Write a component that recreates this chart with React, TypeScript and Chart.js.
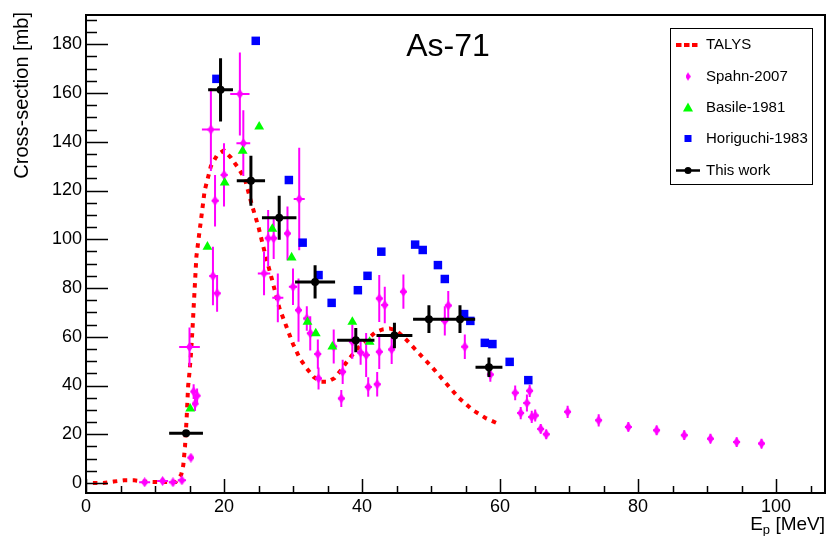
import { useEffect, useRef } from 'react';
import { Chart, registerables } from 'chart.js';

Chart.register(...registerables);

// ---------------- data ----------------
const seriesLabels = ['TALYS', 'Spahn-2007', 'Basile-1981', 'Horiguchi-1983', 'This work'];
const chartTitle = 'As-71';

const talysE = [1, 2.5, 4, 5.5, 7, 8.5, 10, 11.5, 13, 13.8, 14.1, 14.35, 14.6, 14.8, 15.0, 15.2, 15.45, 16.0, 16.6, 17.2, 18.1, 19, 20, 21, 22, 23, 24, 25, 26, 27, 28, 29, 30, 31, 32, 33, 34, 35, 36, 37, 38, 39, 40, 41, 42, 43, 44, 45, 46, 47, 48, 50, 52, 54, 56, 58, 60];
const talysXS = [0, 0, 0.6, 1.1, 1.1, 0.5, 0.4, 0.4, 0.4, 3.4, 7.3, 15, 27.4, 39.7, 45.5, 52.4, 64, 93, 106.5, 120, 130, 134.5, 136.5, 133.5, 129.5, 125, 114.5, 105, 93.5, 83, 72, 64.5, 57, 51, 47, 43.5, 41.5, 41.5, 43, 46.5, 50.5, 54, 57, 59.5, 62, 63, 63.4, 62.5, 60, 57, 54, 48, 41.5, 35, 30, 26.5, 24];

const spahnE = [8.5, 11.1, 12.6, 13.9, 15.0, 15.2, 15.6, 16.1, 15.8, 18.1, 18.7, 20.0, 22.3, 22.8, 18.4, 19.0, 25.8, 26.4, 27.2, 29.2, 30.9, 27.8, 30.0, 30.8, 32.0, 32.5, 33.6, 33.7, 35.9, 37.2, 37.0, 38.6, 39.8, 40.6, 40.9, 42.2, 42.5, 43.3, 42.5, 44.3, 46.0, 52.0, 52.5, 54.9, 58.6, 62.2, 63.0, 63.9, 64.3, 64.6, 65.1, 65.9, 66.7, 69.8, 74.3, 78.6, 82.7, 86.7, 90.5, 94.3, 97.9];
const spahnXS = [0.3, 0.8, 0.3, 1.1, 55.8, 10.4, 37.5, 35.8, 32.5, 145, 115.8, 126.4, 159.6, 139.4, 84.9, 77.8, 86, 100.4, 100.4, 102.4, 116.5, 76, 80.5, 70.9, 67.5, 61.4, 52.9, 42.9, 56, 45.6, 34.7, 58, 53.5, 52.5, 39.4, 40.5, 75.7, 73, 53.8, 54.8, 78.5, 66.5, 72.8, 55.9, 44.5, 37, 28.7, 32.8, 37.8, 27.1, 27.7, 22.2, 20, 29.2, 25.7, 23, 21.6, 19.6, 18.2, 16.8, 16.2];
const spahnEErr = [0.8, 0.8, 0.6, 0.6, 1.5, 0.4, 0.4, 0.4, 0.4, 1.3, 0.5, 0.5, 1.4, 1.0, 0.5, 0.5, 0.9, 0.5, 0.5, 0.5, 0.8, 0.8, 0.6, 0.5, 0.5, 0.5, 0.5, 0.5, 0.5, 0.5, 0.5, 0.5, 0.5, 0.5, 0.5, 0.5, 0.5, 0.5, 0.5, 0.5, 0.5, 0.5, 0.5, 0.5, 0.5, 0.5, 0.5, 0.5, 0.5, 0.5, 0.5, 0.5, 0.5, 0.5, 0.5, 0.5, 0.5, 0.5, 0.5, 0.5, 0.5];
const spahnXSErr = [0.3, 0.5, 0.3, 0.5, 8, 1, 3, 3, 3, 17, 10.6, 13, 17, 13.5, 12, 7.5, 9, 11.6, 8.5, 11, 21, 10, 7.5, 13, 5, 7, 6, 4.5, 7, 5, 3.5, 7, 5, 9, 4, 5, 9.6, 7.5, 7, 6, 7, 6, 6, 5, 3, 3, 2.5, 3.5, 2.5, 2.5, 2.5, 2, 2, 2.5, 2.5, 2, 2, 2, 2, 2, 2];

const basileE = [15.1, 17.6, 20.1, 22.7, 25.1, 27.0, 29.8, 32.1, 33.3, 35.7, 38.6, 41.1];
const basileXS = [30.5, 96.9, 123.2, 136.2, 146.2, 104.2, 92.5, 66.1, 61.4, 55.9, 66.1, 57.9];

const horiE = [18.9, 24.6, 29.4, 31.4, 33.7, 35.6, 39.4, 40.8, 42.8, 47.7, 48.8, 51.0, 52.0, 54.8, 55.7, 57.8, 58.9, 61.4, 64.1];
const horiXS = [165.8, 181.4, 124.3, 98.6, 85.3, 73.9, 79.1, 85.0, 94.9, 97.8, 95.6, 89.4, 83.7, 69.3, 66.5, 57.5, 57.0, 49.7, 42.2];

const workE = [14.5, 19.5, 23.9, 28.0, 33.2, 39.1, 44.7, 49.7, 54.2, 58.4];
const workXS = [20.4, 161.3, 124, 108.8, 82.5, 58.6, 60.5, 67.2, 67.2, 47.5];
const workEErr = [2.45, 1.8, 2.05, 2.5, 2.9, 2.7, 2.6, 2.3, 2.2, 1.95];
const workXSErr = [1.2, 13, 10.3, 9, 6.8, 5, 5.2, 5.7, 5.7, 4];

const xTickValues = [0, 20, 40, 60, 80, 100];
const yTickValues = [0, 20, 40, 60, 80, 100, 120, 140, 160, 180];
const xRange = [0, 107.1];
const yRange = [-4.1, 192];
const minorStep = 5;

const FONT = '"Liberation Sans", Arial, Helvetica, sans-serif';
const MAGENTA = '#ff00ff';
const GREEN = '#00ff00';
const BLUE = '#0000ff';
const RED = '#ff0000';
const PLOT_RIGHT_GAP = 2;

const pts = (xs: number[], ys: number[]) => xs.map((x, i) => ({ x, y: ys[i] }));

function makeDiamond(): HTMLCanvasElement {
  const c = document.createElement('canvas');
  c.width = 7;
  c.height = 10;
  const g = c.getContext('2d')!;
  g.fillStyle = MAGENTA;
  g.beginPath();
  g.moveTo(3.5, 0);
  g.lineTo(7, 5);
  g.lineTo(3.5, 10);
  g.lineTo(0, 5);
  g.closePath();
  g.fill();
  return c;
}

// stretch the plot area to the right edge like the ROOT frame
const areaPlugin = {
  id: 'areaFix',
  afterLayout(chart: any) {
    const a = chart.chartArea;
    const target = chart.width - PLOT_RIGHT_GAP;
    if (a.right !== target) {
      a.right = target;
      a.width = a.right - a.left;
      const sx = chart.scales.x;
      sx.right = target;
      sx.width = sx.right - sx.left;
      sx.configure();
    }
  },
};

const errorBarPlugin = {
  id: 'errorBars',
  beforeDatasetDraw(chart: any, args: any) {
    const ds = chart.data.datasets[args.index];
    if (!ds.errX || !ds.errY) return;
    const { ctx, chartArea: a, scales } = chart;
    const sx = scales.x;
    const sy = scales.y;
    ctx.save();
    ctx.beginPath();
    ctx.rect(a.left, a.top, a.right - a.left, a.bottom - a.top);
    ctx.clip();
    ctx.strokeStyle = ds.errColor;
    ctx.lineWidth = ds.errWidth;
    ctx.lineCap = 'butt';
    ds.data.forEach((p: any, i: number) => {
      const ex = ds.errX[i];
      const ey = ds.errY[i];
      const px = sx.getPixelForValue(p.x);
      const py = sy.getPixelForValue(p.y);
      ctx.beginPath();
      ctx.moveTo(sx.getPixelForValue(p.x - ex), py);
      ctx.lineTo(sx.getPixelForValue(p.x + ex), py);
      ctx.moveTo(px, sy.getPixelForValue(p.y - ey));
      ctx.lineTo(px, sy.getPixelForValue(p.y + ey));
      ctx.stroke();
    });
    ctx.restore();
  },
};

const framePlugin = {
  id: 'rootFrame',
  afterDatasetsDraw(chart: any) {
    const { ctx, chartArea: a, scales } = chart;
    const sx = scales.x;
    const sy = scales.y;
    ctx.save();
    ctx.strokeStyle = '#000';
    ctx.lineWidth = 1.5;
    ctx.beginPath();
    for (let v = 0; v <= xRange[1]; v += minorStep) {
      const px = Math.round(sx.getPixelForValue(v)) + 0.5;
      const len = v % 20 === 0 ? 14 : 7;
      ctx.moveTo(px, a.bottom);
      ctx.lineTo(px, a.bottom - len);
    }
    for (let v = 0; v <= yRange[1]; v += minorStep) {
      const py = Math.round(sy.getPixelForValue(v)) + 0.5;
      const len = v % 20 === 0 ? 22 : 11;
      ctx.moveTo(a.left, py);
      ctx.lineTo(a.left + len, py);
    }
    ctx.stroke();
    ctx.lineWidth = 2;
    ctx.strokeRect(a.left, a.top, a.right - a.left, a.bottom - a.top);
    ctx.restore();
  },
  afterDraw(chart: any) {
    const { ctx, chartArea: a } = chart;
    const ds = chart.data.datasets;
    ctx.save();
    // title
    ctx.fillStyle = '#000';
    ctx.font = `32px ${FONT}`;
    ctx.textAlign = 'center';
    ctx.textBaseline = 'alphabetic';
    ctx.fillText(chartTitle, 448, 56);

    // y axis title
    ctx.save();
    ctx.translate(28, a.top - 3);
    ctx.rotate(-Math.PI / 2);
    ctx.font = `20px ${FONT}`;
    ctx.textAlign = 'right';
    ctx.fillText('Cross-section [mb]', 0, 0);
    ctx.restore();

    // x axis title  E_p [MeV]
    ctx.textAlign = 'left';
    ctx.font = `19px ${FONT}`;
    const restW = ctx.measureText(' [MeV]').width;
    const eW = ctx.measureText('E').width;
    ctx.font = `13px ${FONT}`;
    const pW = ctx.measureText('p').width;
    let tx = a.right - restW - pW - eW;
    const base = 530;
    ctx.font = `19px ${FONT}`;
    ctx.fillText('E', tx, base);
    tx += eW;
    ctx.font = `13px ${FONT}`;
    ctx.fillText('p', tx, base + 4);
    tx += pW;
    ctx.font = `19px ${FONT}`;
    ctx.fillText(' [MeV]', tx, base);

    // legend
    const lx = 670, ly = 28, lw = 142, lh = 156;
    ctx.fillStyle = '#fff';
    ctx.fillRect(lx, ly, lw, lh);
    ctx.strokeStyle = '#000';
    ctx.lineWidth = 1;
    ctx.strokeRect(lx + 0.5, ly + 0.5, lw, lh);
    const rows = [45, 76.5, 107.5, 138.5, 170.5];
    const symX = 688;
    ctx.font = `15px ${FONT}`;
    ctx.textBaseline = 'middle';
    ctx.textAlign = 'left';
    // TALYS
    ctx.save();
    ctx.strokeStyle = RED;
    ctx.lineWidth = 4;
    ctx.setLineDash([5.5, 2.5]);
    ctx.beginPath();
    ctx.moveTo(676, rows[0]);
    ctx.lineTo(700, rows[0]);
    ctx.stroke();
    ctx.restore();
    // Spahn
    const dia = ds[1].pointStyle as HTMLCanvasElement;
    ctx.drawImage(dia, symX - 2.5, rows[1] - 4.5, 5, 9);
    // Basile
    ctx.fillStyle = GREEN;
    ctx.beginPath();
    ctx.moveTo(symX, rows[2] - 5);
    ctx.lineTo(symX + 5, rows[2] + 4);
    ctx.lineTo(symX - 5, rows[2] + 4);
    ctx.closePath();
    ctx.fill();
    // Horiguchi
    ctx.fillStyle = BLUE;
    ctx.fillRect(symX - 3.5, rows[3] - 3.5, 7, 7);
    // This work
    ctx.strokeStyle = '#000';
    ctx.lineWidth = 2.5;
    ctx.beginPath();
    ctx.moveTo(676, rows[4]);
    ctx.lineTo(700, rows[4]);
    ctx.stroke();
    ctx.fillStyle = '#000';
    ctx.beginPath();
    ctx.arc(symX, rows[4], 3.5, 0, Math.PI * 2);
    ctx.fill();
    // labels
    ctx.fillStyle = '#000';
    ds.forEach((d: any, i: number) => ctx.fillText(d.label, 706, rows[i]));
    ctx.restore();
  },
};

export default function App() {
  const ref = useRef<HTMLCanvasElement>(null);

  useEffect(() => {
    const canvas = ref.current;
    if (!canvas) return;
    const diamond = makeDiamond();

    const chart = new Chart(canvas, {
      type: 'scatter',
      data: {
        datasets: [
          {
            label: seriesLabels[0],
            data: pts(talysE, talysXS),
            showLine: true,
            borderColor: RED,
            borderWidth: 4,
            borderDash: [4.5, 5.5],
            borderCapStyle: 'butt',
            pointRadius: 0,
            fill: false,
            tension: 0,
            order: 5,
          } as any,
          {
            label: seriesLabels[1],
            data: pts(spahnE, spahnXS),
            pointStyle: diamond,
            pointRadius: 4,
            backgroundColor: MAGENTA,
            borderWidth: 0,
            errX: spahnEErr,
            errY: spahnXSErr,
            errColor: MAGENTA,
            errWidth: 2,
            order: 4,
          } as any,
          {
            label: seriesLabels[2],
            data: pts(basileE, basileXS),
            pointStyle: 'triangle',
            pointRadius: 5.7,
            backgroundColor: GREEN,
            borderWidth: 0,
            order: 3,
          } as any,
          {
            label: seriesLabels[3],
            data: pts(horiE, horiXS),
            pointStyle: 'rect',
            pointRadius: 6,
            backgroundColor: BLUE,
            borderWidth: 0,
            order: 2,
          } as any,
          {
            label: seriesLabels[4],
            data: pts(workE, workXS),
            pointStyle: 'circle',
            pointRadius: 4,
            backgroundColor: '#000',
            borderWidth: 0,
            errX: workEErr,
            errY: workXSErr,
            errColor: '#000',
            errWidth: 3,
            order: 1,
          } as any,
        ],
      },
      options: {
        responsive: false,
        animation: false,
        events: [],
        layout: { padding: { left: 0, right: PLOT_RIGHT_GAP, top: 15, bottom: 0 } },
        plugins: {
          legend: { display: false },
          tooltip: { enabled: false },
          title: { display: false },
        },
        scales: {
          x: {
            type: 'linear',
            position: 'bottom',
            min: xRange[0],
            max: xRange[1],
            afterBuildTicks: (s: any) => {
              s.ticks = xTickValues.map((v) => ({ value: v }));
            },
            afterFit: (s: any) => {
              s.height = 43;
              s.paddingLeft = 0;
              s.paddingRight = 0;
            },
            ticks: {
              color: '#000',
              font: { family: FONT, size: 18 },
              padding: 3,
              maxRotation: 0,
              autoSkip: false,
              includeBounds: false,
            },
            grid: { display: false, drawTicks: false },
            border: { display: false },
          },
          y: {
            type: 'linear',
            position: 'left',
            min: yRange[0],
            max: yRange[1],
            afterBuildTicks: (s: any) => {
              s.ticks = yTickValues.map((v) => ({ value: v }));
            },
            afterFit: (s: any) => {
              s.width = 86;
              s.paddingTop = 0;
              s.paddingBottom = 0;
            },
            ticks: {
              color: '#000',
              font: { family: FONT, size: 18 },
              padding: 4,
              autoSkip: false,
              includeBounds: false,
            },
            grid: { display: false, drawTicks: false },
            border: { display: false },
          },
        },
      } as any,
      plugins: [areaPlugin, errorBarPlugin, framePlugin],
    });

    return () => chart.destroy();
  }, []);

  return (
    <div style={{ position: 'fixed', left: 0, top: 0, width: 827, height: 536, background: '#fff' }}>
      <canvas ref={ref} width={827} height={536} style={{ display: 'block' }} />
    </div>
  );
}
